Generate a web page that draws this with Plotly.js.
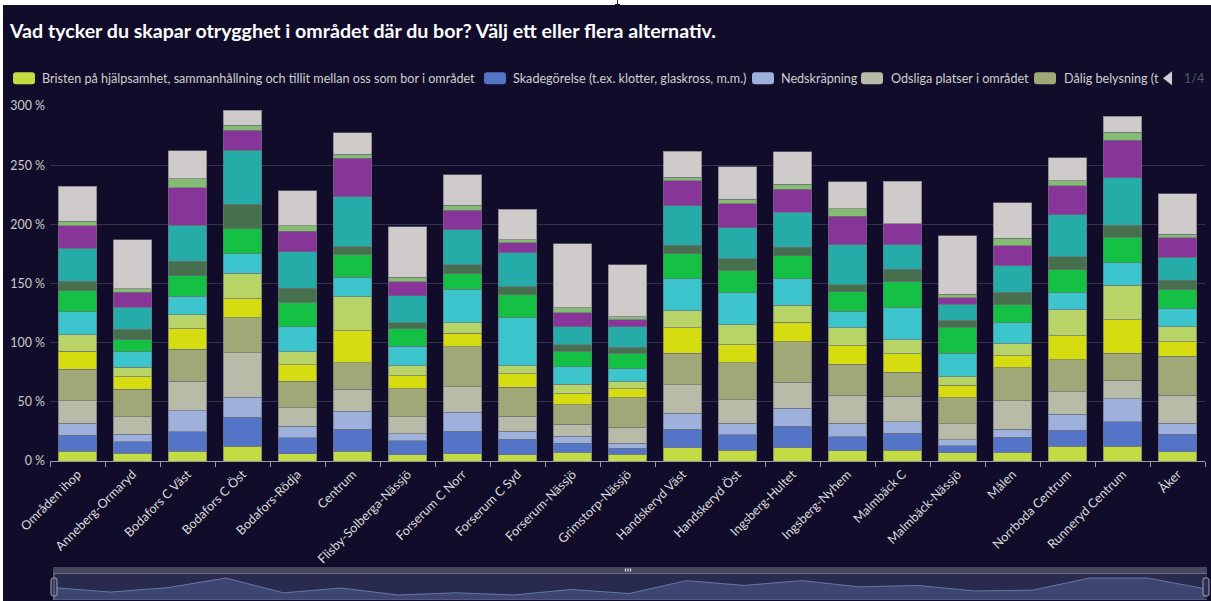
<!DOCTYPE html>
<html>
<head>
<meta charset="utf-8">
<script src="https://cdn.plot.ly/plotly-3.0.1.min.js"></script>
<style>
html, body { margin: 0; padding: 0; background: #ffffff; width: 1211px; height: 601px; overflow: hidden; }
#chart { position: absolute; left: 3px; top: 5px; width: 1208px; height: 596px; background: #100c2a; }
#mark { position: absolute; left: 617px; top: 0; width: 1px; height: 4px; background: #222; }
#markb { position: absolute; left: 615px; top: 4px; width: 5px; height: 1px; background: #222; }
</style>
</head>
<body>
<div id="mark"></div><div id="markb"></div>
<div id="chart"></div>
<script>
// ---------------- DATA ----------------
const categories = [
  "Områden ihop", "Anneberg-Ormaryd", "Bodafors C Väst", "Bodafors C Öst", "Bodafors-Rödja",
  "Centrum", "Flisby-Solberga-Nässjö", "Forserum C Norr", "Forserum C Syd", "Forserum-Nässjö",
  "Grimstorp-Nässjö", "Handskeryd Väst", "Handskeryd Öst", "Ingsberg-Hultet", "Ingsberg-Nyhem",
  "Malmbäck C", "Malmbäck-Nässjö", "Målen", "Norrboda Centrum", "Runneryd Centrum", "Åker"
];

const seriesNames = [
  "Bristen på hjälpsamhet, sammanhållning och tillit mellan oss som bor i området",
  "Skadegörelse (t.ex. klotter, glaskross, m.m.)",
  "Nedskräpning",
  "Odsliga platser i området",
  "Dålig belysning (t.ex. på gator och gångvägar)",
  "Ungdomsgäng",
  "Narkotika",
  "Trafiken",
  "Berusade personer",
  "Buskage och dålig skötsel",
  "Inbrott och stölder",
  "Brist på polisnärvaro",
  "Okända personer i området",
  "Annat"
];

const seriesColors = [
  "#c4dc44", "#5474c8", "#9eb0dc", "#b8bba8", "#a1a877", "#d5dd10", "#b8d467",
  "#3cc5cc", "#14c144", "#46704d", "#26aca8", "#883599", "#84bc74", "#d0cbcb"
];

const s01 = [8.4, 6.5, 8.4, 12.4, 6.2, 8.2, 5.3, 6.2, 5.3, 7.6, 5.9, 11.3, 9.3, 11.3, 8.7, 9.3, 7.0, 7.3, 12.4, 12.4, 7.9];
const s02 = [13.5, 9.8, 16.4, 24.7, 13.5, 18.5, 11.9, 19.1, 13.3, 7.3, 4.8, 15.4, 12.9, 18.0, 11.8, 14.1, 5.9, 13.0, 13.8, 20.8, 14.6];
const s03 = [9.9, 6.2, 17.7, 16.9, 9.6, 15.2, 5.9, 15.8, 6.4, 6.2, 4.2, 13.8, 9.9, 15.2, 11.3, 9.8, 5.1, 6.4, 13.2, 19.4, 9.6];
const s04 = [19.1, 14.9, 25.0, 37.5, 15.7, 18.6, 14.3, 21.9, 12.7, 9.9, 13.8, 24.2, 19.7, 21.9, 23.9, 21.4, 13.5, 24.2, 19.1, 15.8, 23.6];
const s05 = [26.5, 23.4, 26.8, 29.5, 22.5, 22.5, 23.9, 33.5, 24.8, 16.8, 24.8, 26.5, 31.2, 34.6, 26.2, 20.5, 22.0, 27.9, 27.3, 22.8, 32.9];
const s06 = [15.5, 10.4, 17.4, 16.3, 13.8, 27.0, 11.0, 11.3, 11.5, 9.3, 7.6, 21.4, 15.5, 16.1, 15.7, 15.5, 10.7, 10.4, 20.3, 28.4, 12.4];
const s07 = [14.0, 7.9, 12.1, 21.4, 11.0, 28.7, 8.2, 9.0, 6.5, 7.9, 5.9, 14.6, 16.9, 14.6, 15.2, 12.1, 7.0, 10.1, 21.7, 29.0, 12.4];
const s08 = [19.2, 13.2, 15.5, 16.6, 21.1, 16.6, 16.6, 28.4, 40.5, 14.6, 11.2, 26.7, 26.7, 22.2, 13.8, 27.0, 19.7, 17.5, 14.6, 18.8, 15.5];
const s09 = [17.7, 10.1, 17.2, 20.8, 20.6, 19.4, 14.6, 13.2, 19.7, 13.3, 12.7, 21.1, 19.1, 19.4, 16.4, 21.7, 22.2, 15.2, 19.1, 21.7, 15.7];
const s10 = [8.2, 9.0, 12.3, 20.9, 12.0, 6.3, 5.1, 7.3, 6.5, 5.6, 5.1, 7.3, 9.9, 7.4, 5.9, 10.7, 5.9, 10.7, 11.0, 10.1, 8.2];
const s11 = [27.8, 18.6, 30.4, 45.8, 30.7, 42.2, 22.8, 29.6, 28.7, 14.9, 17.4, 33.3, 26.2, 29.5, 34.0, 20.8, 13.5, 22.2, 35.5, 40.3, 19.4];
const s12 = [18.9, 12.7, 31.8, 16.9, 17.5, 32.6, 11.8, 16.6, 8.4, 11.8, 6.2, 21.1, 20.2, 19.4, 23.9, 17.5, 5.4, 16.9, 24.7, 31.5, 16.3];
const s13 = [3.9, 2.8, 7.6, 4.2, 4.8, 3.4, 3.9, 4.2, 2.8, 4.2, 2.5, 3.3, 3.7, 4.5, 6.2, 0, 3.1, 6.5, 4.2, 6.7, 3.1];
const s14 = [29.8, 41.6, 23.7, 12.4, 29.5, 18.0, 42.5, 25.9, 25.6, 54.1, 43.6, 21.7, 27.6, 27.3, 23.1, 36.0, 49.2, 29.8, 19.2, 13.8, 34.1];

const seriesValues = [s01, s02, s03, s04, s05, s06, s07, s08, s09, s10, s11, s12, s13, s14];

const titleText = "Vad tycker du skapar otrygghet i området där du bor? Välj ett eller flera alternativ.";
const legendVisibleCount = 5;
const legendPageText = "1/4";

// ---------------- LAYOUT HELPERS ----------------
const W = 1208, H = 596, OX = 3, OY = 5;
const M = { l: 47, r: 4, t: 100.7, b: 1 };
const PW = W - M.l - M.r, PH = H - M.t - M.b;
function px(pageX) { return (pageX - OX - M.l) / PW; }
function py(pageY) { return (H - M.b - (pageY - OY)) / PH; }

const FONT = "Lato, 'Open Sans', sans-serif";

// ---------------- TRACES ----------------
const traces = seriesValues.map((vals, i) => ({
  type: "bar",
  name: seriesNames[i],
  x: categories,
  y: vals,
  xaxis: "x", yaxis: "y",
  marker: { color: seriesColors[i], line: { color: "rgba(110,110,120,0.65)", width: 1 } },
  showlegend: false,
  hovertemplate: "%{x}<br>" + seriesNames[i] + ": %{y} %<extra></extra>"
}));

// data shadow of the zoom slider (first series)
traces.push({
  type: "scatter",
  mode: "lines",
  x: categories,
  y: s01,
  xaxis: "x2", yaxis: "y2",
  fill: "tozeroy",
  fillcolor: "#3d4570",
  line: { color: "#6877a6", width: 1 },
  hoverinfo: "skip",
  showlegend: false
});

// ---------------- SHAPES & ANNOTATIONS ----------------
const shapes = [];
const annotations = [];

function roundRect(x0, y0, x1, y1, r) {
  const X0 = px(x0), X1 = px(x1), Y0 = py(y0), Y1 = py(y1);
  const rx = r / PW, ry = r / PH;
  return `M${X0 + rx},${Y0} L${X1 - rx},${Y0} Q${X1},${Y0} ${X1},${Y0 - ry} L${X1},${Y1 + ry} Q${X1},${Y1} ${X1 - rx},${Y1} L${X0 + rx},${Y1} Q${X0},${Y1} ${X0},${Y1 + ry} L${X0},${Y0 - ry} Q${X0},${Y0} ${X0 + rx},${Y0} Z`;
}

// legend (first page only)
const legendSwatchX = [13, 484, 752, 861, 1034];
const legendTextX = [40, 511, 779, 889, 1062];
const legendLabelMax = [200, 200, 200, 200, 18];
for (let i = 0; i < legendVisibleCount; i++) {
  shapes.push({
    type: "path", xref: "paper", yref: "paper",
    path: roundRect(legendSwatchX[i], 72, legendSwatchX[i] + 22, 84, 3),
    fillcolor: seriesColors[i], line: { width: 0 }
  });
  annotations.push({
    xref: "paper", yref: "paper", x: px(legendTextX[i]), y: py(78.5),
    xanchor: "left", yanchor: "middle", showarrow: false,
    text: seriesNames[i].slice(0, legendLabelMax[i]),
    font: { family: FONT, size: 12.6, color: "#d0d0d0" }
  });
}
// legend pager
shapes.push({
  type: "path", xref: "paper", yref: "paper",
  path: `M${px(1172)},${py(71)} L${px(1172)},${py(85)} L${px(1163)},${py(78)} Z`,
  fillcolor: "#cfcfcf", line: { width: 0 }
});
annotations.push({
  xref: "paper", yref: "paper", x: px(1182), y: py(78.5),
  xanchor: "left", yanchor: "middle", showarrow: false,
  text: legendPageText, font: { family: FONT, size: 12.6, color: "#555566" }
});

// zoom slider frame
shapes.push({ type: "rect", xref: "paper", yref: "paper", layer: "below",
  x0: px(53), x1: px(1207), y0: py(600), y1: py(573), fillcolor: "#282a4e", line: { width: 0 } });
shapes.push({ type: "rect", xref: "paper", yref: "paper",
  x0: px(53), x1: px(1207), y0: py(573), y1: py(567), fillcolor: "#47445e", line: { width: 0 } });
shapes.push({ type: "line", xref: "paper", yref: "paper",
  x0: px(53), x1: px(1207), y0: py(573.5), y1: py(573.5), line: { color: "#6c6886", width: 1 } });
shapes.push({ type: "line", xref: "paper", yref: "paper",
  x0: px(53), x1: px(1207), y0: py(599.5), y1: py(599.5), line: { color: "#555a7c", width: 1 } });
// grip
[625.5, 628, 630.5].forEach(gx => shapes.push({ type: "line", xref: "paper", yref: "paper",
  x0: px(gx), x1: px(gx), y0: py(568.5), y1: py(571.5), line: { color: "#e8e8f0", width: 1.2 } }));
// handles
[[51, 57], [1203, 1209]].forEach(h => shapes.push({
  type: "path", xref: "paper", yref: "paper",
  path: roundRect(h[0], 578, h[1], 596, 2),
  fillcolor: "#2c2e52", line: { color: "#a4a6b8", width: 1 }
}));
shapes.push({ type: "line", xref: "paper", yref: "paper",
  x0: px(54), x1: px(54), y0: py(573), y1: py(600), line: { color: "#7c7f9c", width: 1 } });

// ---------------- LAYOUT ----------------
const layout = {
  width: W, height: H,
  margin: M,
  paper_bgcolor: "#100c2a",
  plot_bgcolor: "#100c2a",
  font: { family: FONT, color: "#cccccc", size: 12 },
  title: {
    text: titleText,
    font: { family: FONT, size: 19.6, color: "#ffffff", weight: "bold" },
    xref: "container", yref: "container",
    x: 7 / W, xanchor: "left",
    y: 1 - 26 / H, yanchor: "middle"
  },
  barmode: "stack",
  bargap: 0.3,
  showlegend: false,
  xaxis: {
    type: "category",
    domain: [0, px(1205)],
    anchor: "y",
    tickangle: -45,
    tickfont: { family: FONT, size: 12.6, color: "#dddddd" },
    ticks: "outside", tickson: "boundaries", ticklen: 5, tickcolor: "#9a9aa6", tickwidth: 1,
    showline: true, linecolor: "#9a9aa6", linewidth: 1,
    showgrid: false, zeroline: false, fixedrange: true
  },
  yaxis: {
    domain: [py(461), 1],
    anchor: "x",
    range: [0, 300],
    dtick: 50,
    ticksuffix: " %",
    tickfont: { family: FONT, size: 12.4, color: "#cccccc" },
    gridcolor: "#35324c", gridwidth: 1,
    showline: false, zeroline: false, ticks: "",
    ticklabelstandoff: 4,
    fixedrange: true
  },
  xaxis2: {
    type: "category", domain: [px(53), px(1205)], anchor: "y2",
    range: [0, categories.length - 1], visible: false, fixedrange: true
  },
  yaxis2: {
    domain: [py(600), py(573)], anchor: "x2",
    range: [3.2, 14.5], visible: false, fixedrange: true
  },
  shapes: shapes,
  annotations: annotations
};

Plotly.newPlot("chart", traces, layout, { displayModeBar: false, staticPlot: true });
</script>
</body>
</html>
